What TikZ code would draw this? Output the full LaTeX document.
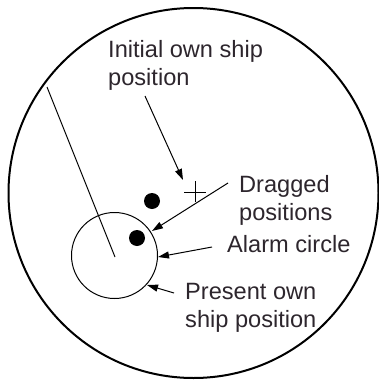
\documentclass[tikz,border=0pt]{standalone}
\usepackage{fontspec}
\setmainfont{Liberation Sans}
\usetikzlibrary{arrows.meta}
\definecolor{txt}{RGB}{45,38,45}
\begin{document}
\begin{tikzpicture}[x=1pt,y=-1pt,
  lbl/.style={font=\fontsize{23.6}{28}\selectfont, text=txt, align=left, inner sep=0pt, anchor=base west},
  thin/.style={line width=1pt},
  arr/.style={thin, -{Triangle[length=11pt,width=7pt]}}]
\useasboundingbox (0,0) rectangle (379,380);
\draw[line width=2pt] (193.5,193) circle (185);
\node[draw, thin, circle, minimum size=86pt, inner sep=0pt] (alarm) at (114.5,255.5) {};
\coordinate (ctr) at (115,257);
\coordinate (far) at (47,87);
\draw[thin] (far) -- (ctr);
\node[circle, fill=black, minimum size=16pt, inner sep=0pt] (d1) at (152,201) {};
\node[circle, fill=black, minimum size=16pt, inner sep=0pt] (d2) at (137,238) {};
\coordinate (cr) at (195,192);
\draw[thin] ([xshift=-11pt]cr) -- ([xshift=11pt]cr);
\draw[thin] ([yshift=-10pt]cr) -- ([yshift=11pt]cr);
\node[lbl] (t1) at (108,85) {Initial own ship\\position};
\node[lbl] (t2) at (239,220) {Dragged\\positions};
\node[lbl] (t3) at (227,252) {Alarm circle};
\node[lbl] (t4) at (185,327) {Present own\\ship position};
\coordinate (a1s) at (145,96);
\coordinate (a1e) at (183,180);
\draw[arr] (a1s) -- (a1e);
\coordinate (a2s) at (228,183);
\coordinate (a2e) at (152,231);
\draw[arr] (a2s) -- (a2e);
\coordinate (a3s) at (212,247);
\coordinate (a3e) at (158,257);
\draw[arr] (a3s) -- (a3e);
\coordinate (a4s) at (174,293);
\coordinate (a4e) at (147,285);
\draw[arr] (a4s) -- (a4e);
\end{tikzpicture}
\end{document}
